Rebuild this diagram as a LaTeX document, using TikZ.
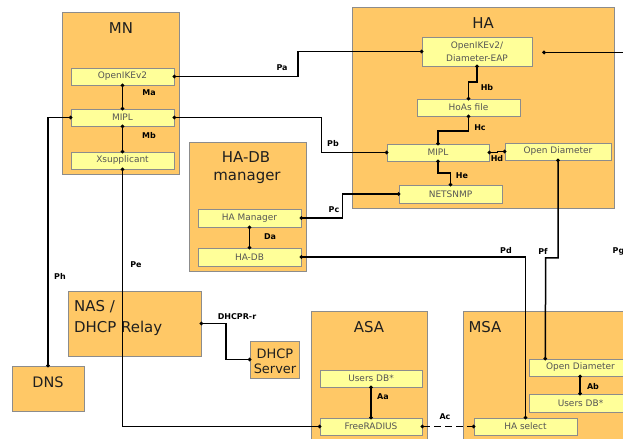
\documentclass[tikz,border=0pt]{standalone}
\usepackage{fontspec}
\setmainfont{DejaVu Sans}
\usetikzlibrary{arrows.meta,calc}
\definecolor{orng}{RGB}{255,200,102}
\definecolor{ylw}{RGB}{255,255,153}
\definecolor{bord}{RGB}{140,140,140}
\definecolor{subtxt}{RGB}{85,85,85}
\begin{document}
\begin{tikzpicture}[x=1bp,y=-1bp,
 bigbox/.style={draw=bord, fill=orng, line width=0.9bp, inner sep=0, rectangle},
 subbox/.style={draw=bord, fill=ylw, line width=0.9bp, inner sep=0, rectangle, text=subtxt, font=\fontsize{9}{13.3}\selectfont, align=center},
 ttl/.style={font=\fontsize{15}{18}\selectfont, text=black!88, inner sep=0, anchor=base},
 lbl/.style={font=\bfseries\fontsize{8}{9}\selectfont, inner sep=0},
 conn/.style={line width=1.5bp, {Circle[length=3.4bp]}-{Circle[length=3.4bp]}, shorten <=-1.7bp, shorten >=-1.7bp},
 conna/.style={line width=1.5bp, {Circle[length=3.4bp]}-, shorten <=-1.7bp},
]
\useasboundingbox (0,0) rectangle (623,439);
\fill[white] (0,0) rectangle (623,439);
\clip (0,0) rectangle (623,439);

% big boxes
\node[bigbox, minimum width=117bp, minimum height=162bp] (mn) at (120.5,93) {};
\node[bigbox, minimum width=262bp, minimum height=201bp] (ha) at (483,107.5) {};
\node[bigbox, minimum width=117bp, minimum height=129bp] (hadbm) at (247.5,206.5) {};
\node[bigbox, minimum width=133bp, minimum height=65bp] (nas) at (134.5,323.5) {};
\node[bigbox, minimum width=49bp, minimum height=37bp] (dhcp) at (274.5,359.5) {};
\node[bigbox, minimum width=72bp, minimum height=45bp] (dns) at (48,388.5) {};
\node[bigbox, minimum width=116bp, minimum height=150bp] (asa) at (369,386) {};
\node[bigbox, minimum width=190bp, minimum height=150bp] (msa) at (558,386) {};

% titles
\node[ttl] (tmn) at (121,33.3) {MN};
\node[ttl] (tha) at (483,28.3) {HA};
\node[ttl] (thadb) at (246,162.3) {HA-DB};
\node[ttl] (thadb2) at (247,181) {manager};
\node[ttl, anchor=base west] (tnas) at (74,311.7) {NAS /};
\node[ttl, anchor=base west] (tnas2) at (74,332) {DHCP Relay};
\node[ttl, font=\fontsize{13}{15}\selectfont] (tdhcp) at (275,358.3) {DHCP};
\node[ttl, font=\fontsize{13}{15}\selectfont] (tdhcp2) at (275,373) {Server};
\node[ttl, font=\fontsize{14.5}{17}\selectfont] (tdns) at (48,387.7) {DNS};
\node[ttl] (tasa) at (369,332.7) {ASA};
\node[ttl] (tmsa) at (485,332.7) {MSA};

% sub boxes
\node[subbox, minimum width=103bp, minimum height=17bp] (mnike) at (122.5,76.5) {OpenIKEv2};
\node[subbox, minimum width=103bp, minimum height=17bp] (mnmipl) at (122.5,117.5) {MIPL};
\node[subbox, minimum width=103bp, minimum height=17bp] (mnxs) at (122.5,160.5) {Xsupplicant};

\node[subbox, minimum width=110bp, minimum height=29bp] (hadiam) at (477,51.5) {OpenIKEv2/\\Diameter-EAP};
\node[subbox, minimum width=103bp, minimum height=17bp] (hoas) at (468.5,107.5) {HoAs file};
\node[subbox, minimum width=102bp, minimum height=17bp] (hamipl) at (438,152.5) {MIPL};
\node[subbox, minimum width=106bp, minimum height=17bp] (haod) at (558,151.5) {Open Diameter};
\node[subbox, minimum width=103bp, minimum height=18bp] (netsnmp) at (450.5,194) {NETSNMP};

\node[subbox, minimum width=103bp, minimum height=18bp] (hamgr) at (249.5,218) {HA Manager};
\node[subbox, minimum width=103bp, minimum height=18bp] (hadb) at (249.5,257) {HA-DB};

\node[subbox, minimum width=102bp, minimum height=17bp] (asaudb) at (371,378.5) {Users DB*};
\node[subbox, minimum width=102bp, minimum height=17bp] (freerad) at (371,426.5) {FreeRADIUS};

\node[subbox, minimum width=103bp, minimum height=17bp] (msaod) at (580.5,367.5) {Open Diameter};
\node[subbox, minimum width=103bp, minimum height=18bp] (msaudb) at (580.5,403) {Users DB*};
\node[subbox, minimum width=103bp, minimum height=17bp] (hasel) at (525.5,426.5) {HA select};

% connectors
\draw[conn] (mnike.south) -- (mnmipl.north);
\draw[conn] (mnmipl.south) -- (mnxs.north);
\draw[conn] (mnike.east) -- (298,76.5) |- (hadiam.west);
\coordinate (pgs) at (544,52.5);
\draw[conna] (pgs) -- (640,52.5);
\draw[conn] (hadiam.south) -- ++(0,15.5) -| (hoas.north);
\draw[conn] (hoas.south) -- ++(0,14.7) -| (hamipl.north);
\draw[conn] (hamipl.south) -- ++(0,11.7) -| (netsnmp.north);
\draw[conn] (hamipl.east) -- ++(8,0) |- (haod.west);
\draw[conn] (mnmipl.east) -- (321.7,117.5) |- (hamipl.west);
\draw[conn] (hamgr.east) -- (342.7,218) |- (netsnmp.west);
\draw[conn] (hamgr.south) -- (hadb.north);
\draw[conn] (hadb.east) -| (hasel.north);
\draw[conn] (haod.south) -- (558,258) -- (545.7,258) -- ($(msaod.north west)+(16.7,0)$);
\draw[conn] ($(msaod.south west)+(51.5,0)$) -- ($(msaudb.north west)+(51.5,0)$);
\draw[conn] (asaudb.south) -- (freerad.north);
\draw[conn, dash pattern=on 7bp off 4bp] (freerad.east) -- (hasel.west);
\draw[conn] (mnxs.south) |- (freerad.west);
\draw[conn] (mnmipl.west) -| (dns.north);
\draw[conn] (nas.east) -- (226,323.5) |- (dhcp.west);

% labels
\node[lbl] (lma) at (149,93) {Ma};
\node[lbl] (lmb) at (149,136) {Mb};
\node[lbl] (lpa) at (282,68) {Pa};
\node[lbl] (lhb) at (487,88) {Hb};
\node[lbl] (lhc) at (480,128) {Hc};
\node[lbl] (lhd) at (497,159) {Hd};
\node[lbl] (lhe) at (462,176) {He};
\node[lbl] (lpb) at (333,144) {Pb};
\node[lbl] (lpc) at (334,210) {Pc};
\node[lbl] (lda) at (270,237) {Da};
\node[lbl] (lpd) at (506,251) {Pd};
\node[lbl] (lpf) at (543,251) {Pf};
\node[lbl, anchor=west] (lpg) at (612.5,251) {Pg};
\node[lbl] (lph) at (60,276) {Ph};
\node[lbl] (lpe) at (136,265) {Pe};
\node[lbl] (ldh) at (237,317) {DHCPR-r};
\node[lbl] (laa) at (383,397) {Aa};
\node[lbl] (lab) at (593,387) {Ab};
\node[lbl] (lac) at (445,417) {Ac};
\end{tikzpicture}
\end{document}
